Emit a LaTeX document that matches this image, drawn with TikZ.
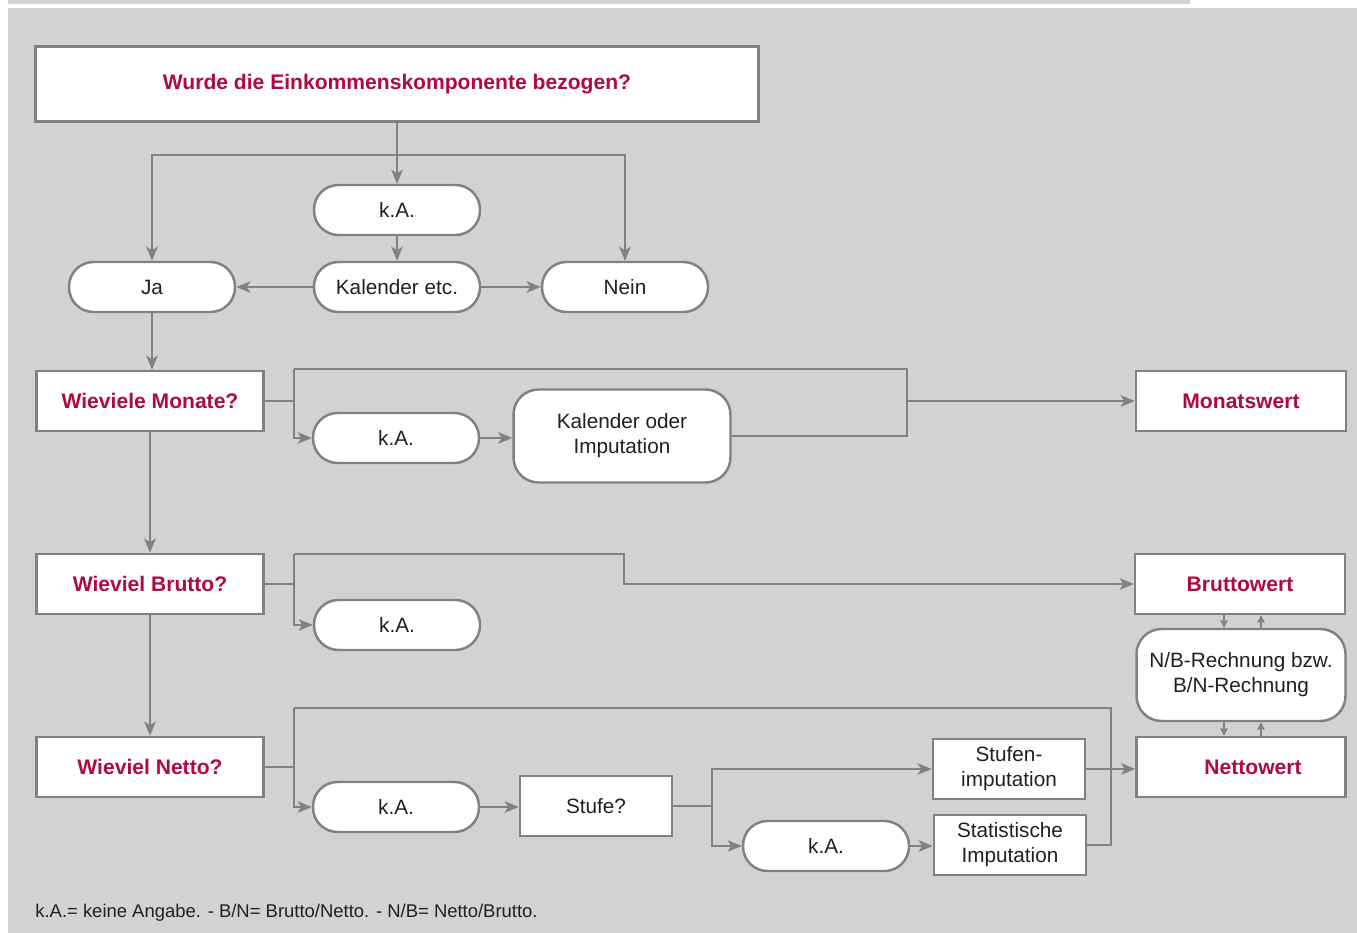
\documentclass[tikz,border=0pt]{standalone}
\usepackage{fontspec}
\setmainfont{Liberation Sans}
\usetikzlibrary{arrows.meta}
\definecolor{bggray}{HTML}{D1D2D4}
\definecolor{linegray}{HTML}{818181}
\definecolor{headred}{HTML}{B00A3E}
\definecolor{textblack}{HTML}{231F20}

\begin{document}
\begin{tikzpicture}[x=0.02cm, y=-0.02cm,
	every node/.style={font=\fontsize{11.8}{14.2}\selectfont, align=center, inner sep=0pt, text=textblack},
	pill/.style={draw=linegray, line width=1.4pt, fill=white, rounded corners=0.49cm, minimum width=3.32cm, minimum height=1cm},
	box/.style={draw=linegray, line width=1.4pt, fill=white, minimum height=1.2cm},
	rbox/.style={draw=linegray, line width=1.4pt, fill=white, rounded corners=0.5cm},
	qtext/.style={text=headred, font=\fontsize{12}{14}\selectfont\bfseries},
	conn/.style={draw=linegray, line width=1.4pt},
	arr/.style={conn, -{Stealth[length=8pt, width=6.5pt, inset=2pt]}},
	tip/.style={conn, -{Stealth[length=4.5pt, width=4.5pt, inset=1pt]}}]
	\useasboundingbox (0, 0) rectangle (1357, 933);
	\fill[bggray] (8, 8) rectangle (1357, 933);
	\fill[bggray] (8, 0) rectangle (1190, 4);

	\node (frage) at (397, 84) [box, minimum width=14.46cm, minimum height=1.5cm, qtext] {Wurde die Einkommenskomponente bezogen?};
	\node (ka1) at (397, 210) [pill] {k.A.};
	\node (ja) at (152, 287) [pill] {Ja};
	\node (kal1) at (397, 287) [pill] {Kalender etc.};
	\node (nein) at (625, 287) [pill] {Nein};

	\node (monate) at (150, 401) [box, minimum width=4.54cm, qtext] {Wieviele Monate?};
	\node (ka2) at (396, 438) [pill] {k.A.};
	\node (kal2) at (622, 436) [rbox, minimum width=4.34cm, minimum height=1.86cm] {Kalender oder\\Imputation};
	\node (monwert) at (1241, 401) [box, minimum width=4.2cm, qtext] {Monatswert};

	\node (brutto) at (150, 584) [box, minimum width=4.54cm, qtext] {Wieviel Brutto?};
	\node (ka3) at (397, 625) [pill] {k.A.};
	\node (bruttowert) at (1240, 584) [box, minimum width=4.2cm, qtext] {Bruttowert};
	\node (nb) at (1241, 675) [rbox, minimum width=4.18cm, minimum height=1.84cm] {N/B-Rechnung bzw.\\B/N-Rechnung};
	\node (nettowert) at (1241, 767) [box, minimum width=4.18cm, qtext] {\hspace*{0.48cm}Nettowert};

	\node (netto) at (150, 767) [box, minimum width=4.54cm, qtext] {Wieviel Netto?};
	\node (ka4) at (396, 807) [pill] {k.A.};
	\node (stufe) at (596, 806) [box, minimum width=3.04cm] {Stufe?};
	\node (stufimp) at (1009, 769) [box, minimum width=3.04cm] {Stufen-\\imputation};
	\node (ka5) at (826, 846) [pill] {k.A.};
	\node (stat) at (1010, 845) [box, minimum width=3.04cm] {Statistische\\Imputation};

	\node (fn) at (35, 913) [anchor=west, font=\fontsize{10.5}{12}\selectfont] {k.A.= keine Angabe. - B/N= Brutto/Netto. - N/B= Netto/Brutto.};

	\coordinate (f0) at (397, 155);
	\draw[conn] (frage) -- (f0);
	\draw[arr] (f0) -- (ka1);
	\draw[arr] (f0) -| (ja);
	\draw[arr] (f0) -| (nein);
	\draw[arr] (ka1) -- (kal1);
	\draw[arr] (kal1) -- (ja);
	\draw[arr] (kal1) -- (nein);
	\draw[arr] (ja.south) -- (ja.south |- monate.north);

	\coordinate (m0) at (294, 401);
	\coordinate (m1) at (294, 369);
	\coordinate (m2) at (907, 369);
	\coordinate (m3) at (907, 436);
	\coordinate (m4) at (907, 401);
	\draw[conn] (monate) -- (m0);
	\draw[arr] (m1) -- (m0) |- (ka2);
	\draw[conn] (m1) -- (m2) -- (m3) -- (kal2);
	\draw[arr] (m4) -- (monwert);
	\draw[arr] (ka2.east) -- (ka2.east -| kal2.west);
	\draw[arr] (monate) -- (brutto);

	\coordinate (b0) at (294, 584);
	\coordinate (b1) at (294, 554);
	\coordinate (b2) at (624, 554);
	\draw[conn] (brutto) -- (b0);
	\draw[arr] (b1) -- (b0) |- (ka3);
	\draw[arr] (b1) -- (b2) |- (bruttowert);
	\draw[arr] (brutto) -- (netto);

	\coordinate (d1) at ([xshift=-0.32cm]bruttowert.south);
	\coordinate (u1) at ([xshift=0.42cm]bruttowert.south);
	\draw[tip] (d1) -- (d1 |- nb.north);
	\draw[tip] (u1 |- nb.north) -- (u1);
	\draw[tip] (d1 |- nb.south) -- (d1 |- nettowert.north);
	\draw[tip] (u1 |- nettowert.north) -- (u1 |- nb.south);

	\coordinate (n0) at (294, 767);
	\coordinate (n1) at (294, 708);
	\coordinate (n2) at (1111, 708);
	\draw[conn] (netto) -- (n0);
	\draw[arr] (n1) -- (n0) |- (ka4);
	\draw[conn] (n1) -- (n2) |- (stat);
	\draw[arr] (ka4.east) -- (ka4.east -| stufe.west);

	\coordinate (s0) at (712, 806);
	\draw[conn] (stufe) -- (s0);
	\draw[arr] (s0) |- (stufimp);
	\draw[arr] (s0) |- (ka5);
	\draw[arr] (ka5.east) -- (ka5.east -| stat.west);
	\draw[arr] (stufimp) -- (stufimp -| nettowert.west);
\end{tikzpicture}
\end{document}
